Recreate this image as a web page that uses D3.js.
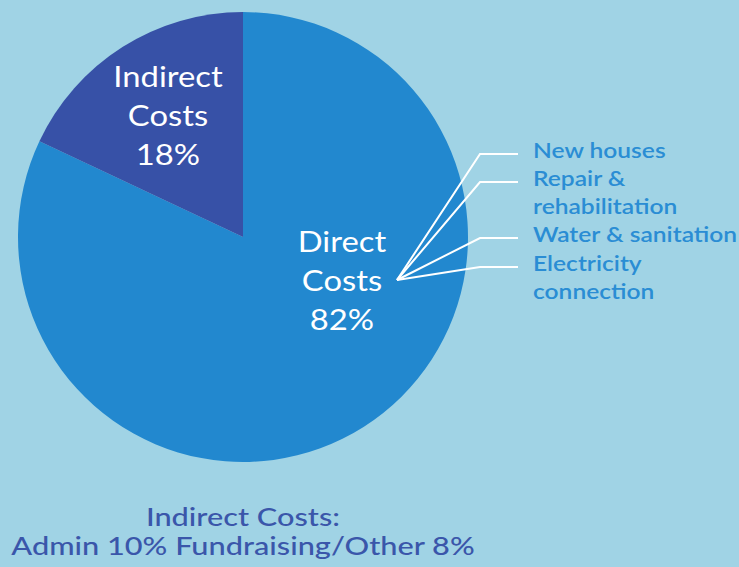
<!DOCTYPE html>
<html>
  <head>
    <title>Costs pie</title>
    <script src="https://d3js.org/d3.v7.min.js"></script>
    <style>
      body { margin: 0; background: #a0d3e5; }
      text { font-family: Lato, 'Open Sans', sans-serif; }
    </style>
  </head>
  <body>
    <script>
      let categories = ['Direct Costs', 'Indirect Costs']
      let shares = [82, 18]
      let directItems = ['New houses', 'Repair &\nrehabilitation', 'Water & sanitation', 'Electricity\nconnection']
      let indirectParts = ['Admin', 'Fundraising/Other']
      let indirectShares = [10, 8]

      let width = 739, height = 567
      let cx = 243, cy = 237, radius = 225
      let colors = ['#2288cf', '#3751a7']

      // the original face is wider than Lato, stretch glyphs a bit
      function widen(sel, factor) {
          sel.each(function () {
              let len = this.getComputedTextLength()
              d3.select(this).attr('textLength', len * factor).attr('lengthAdjust', 'spacingAndGlyphs')
          })
      }

      let svg = d3.select('body').append('svg')
                  .attr('width', width)
                  .attr('height', height)
                  .style('display', 'block')

      svg.append('rect').attr('width', width).attr('height', height).attr('fill', '#a0d3e5')

      let data = categories.map((c, i) => ({name: c, value: shares[i]}))
      let pie = d3.pie().sort(null).value(d => d.value)
      let arc = d3.arc().innerRadius(0).outerRadius(radius)

      let g = svg.append('g').attr('transform', `translate(${cx}, ${cy})`)
      g.selectAll('path').data(pie(data))
       .enter().append('path')
       .attr('d', arc)
       .attr('fill', (d, i) => colors[i])

      // slice labels (three lines each)
      let labelPos = [[99, 15], [-75, -150]]
      data.forEach((d, i) => {
          let words = d.name.split(' ')
          let lines = [words[0], words[1], d.value + '%']
          lines.forEach((l, j) => {
              g.append('text')
               .attr('class', 'slice-label')
               .attr('text-anchor', 'middle')
               .attr('fill', '#fff')
               .style('font-size', '29px')
               .attr('x', labelPos[i][0]).attr('y', labelPos[i][1] + j * 39)
               .text(l)
          })
      })
      widen(g.selectAll('.slice-label'), 1.13)

      // direct cost breakdown with leader lines
      let origin = [397, 280]
      let lineY = d3.scaleOrdinal().domain(directItems).range([154, 182, 238, 267])
      let kinkX = 480, lineEnd = 518

      directItems.forEach(item => {
          let y = lineY(item)
          svg.append('polyline')
             .attr('points', `${origin[0]},${origin[1]} ${kinkX},${y} ${lineEnd},${y}`)
             .attr('fill', 'none')
             .attr('stroke', '#fff')
             .attr('stroke-width', 2)
          item.split('\n').forEach((l, j) => {
              svg.append('text')
                 .attr('class', 'item')
                 .attr('fill', '#2a8dd4')
                 .style('font-size', '21px')
                 .style('font-weight', 600)
                 .attr('x', 533).attr('y', y + 4 + j * 28)
                 .text(l)
          })
      })
      widen(svg.selectAll('.item'), 1.17)

      // footnote
      let noteLines = ['Indirect Costs:', indirectParts.map((p, i) => `${p} ${indirectShares[i]}%`).join(' ')]
      noteLines.forEach((l, j) => {
          svg.append('text')
             .attr('class', 'note')
             .attr('text-anchor', 'middle')
             .attr('fill', '#3a56aa')
             .style('font-size', '24px')
             .style('font-weight', 500)
             .attr('x', cx).attr('y', 526 + j * 29)
             .text(l)
      })
      widen(svg.selectAll('.note'), 1.28)
    </script>
  </body>
</html>
